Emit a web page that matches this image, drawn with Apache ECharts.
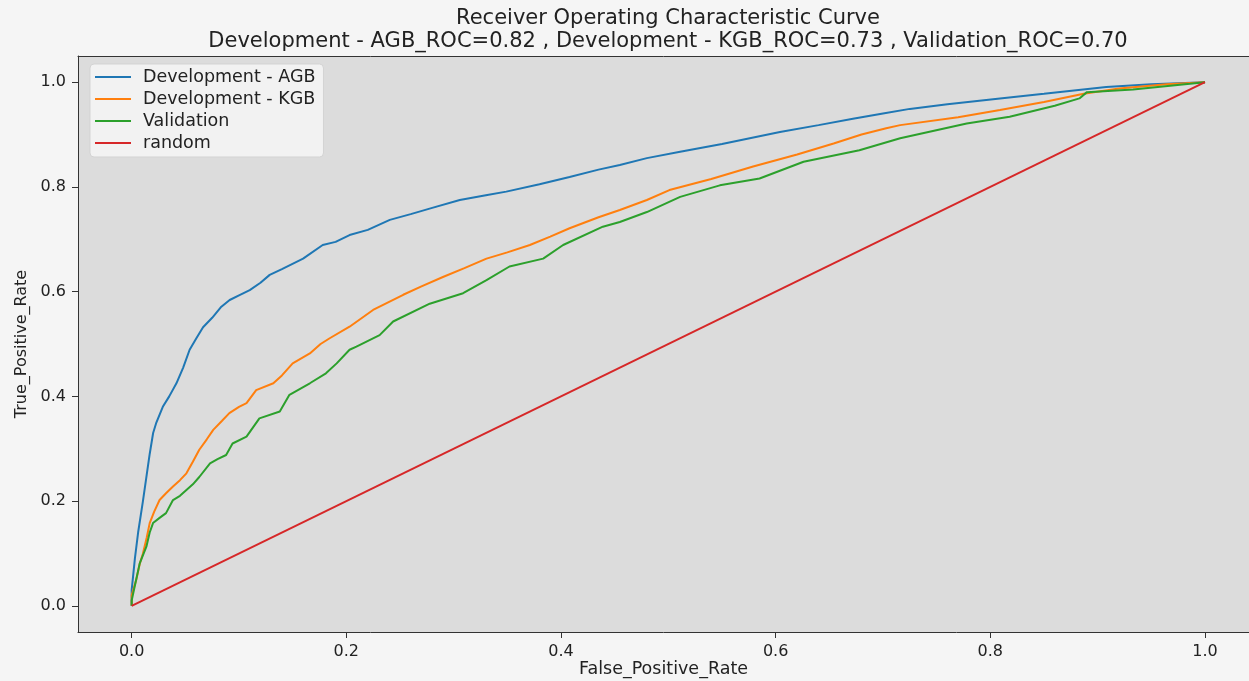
<!DOCTYPE html>
<html>
<head>
<meta charset="utf-8">
<script src="https://cdn.jsdelivr.net/npm/echarts@6/dist/echarts.min.js"></script>
<style>
html,body{margin:0;padding:0;background:#f5f5f5;}
#chart{width:1249px;height:681px;}
</style>
</head>
<body>
<div id="chart"></div>
<script>
const titleLine1 = 'Receiver Operating Characteristic Curve';
const titleLine2 = 'Development - AGB_ROC=0.82 , Development - KGB_ROC=0.73 , Validation_ROC=0.70';
const xAxisName = 'False_Positive_Rate';
const yAxisName = 'True_Positive_Rate';
const seriesNames = ['Development - AGB', 'Development - KGB', 'Validation', 'random'];
const xTicks = [0.0, 0.2, 0.4, 0.6, 0.8, 1.0];
const yTicks = [0.0, 0.2, 0.4, 0.6, 0.8, 1.0];

const agb = [[0,0],[0,0.03],[0.003,0.09],[0.006,0.14],[0.0105,0.20],[0.014,0.25],[0.0168,0.29],[0.02,0.33],[0.023,0.35],[0.029,0.38],[0.035,0.40],[0.0417,0.425],[0.048,0.455],[0.054,0.489],[0.06,0.51],[0.0665,0.532],[0.075,0.55],[0.083,0.57],[0.0913,0.584],[0.1,0.593],[0.11,0.603],[0.12,0.617],[0.1286,0.632],[0.14,0.643],[0.1597,0.663],[0.178,0.689],[0.19,0.695],[0.203,0.708],[0.22,0.718],[0.2405,0.737],[0.26,0.748],[0.28,0.76],[0.3057,0.775],[0.33,0.784],[0.349,0.791],[0.38,0.805],[0.408,0.819],[0.435,0.833],[0.4548,0.842],[0.48,0.855],[0.511,0.867],[0.55,0.882],[0.604,0.905],[0.64,0.918],[0.672,0.930],[0.7,0.94],[0.725,0.949],[0.76,0.958],[0.809,0.969],[0.85,0.978],[0.908,0.991],[0.95,0.996],[1,1]];

const kgb = [[0,0],[0,0.02],[0.0043,0.05],[0.0075,0.08],[0.0105,0.10],[0.014,0.13],[0.0168,0.158],[0.021,0.18],[0.026,0.202],[0.032,0.215],[0.0385,0.228],[0.045,0.24],[0.051,0.253],[0.057,0.275],[0.063,0.298],[0.07,0.318],[0.076,0.336],[0.084,0.353],[0.091,0.368],[0.1,0.38],[0.107,0.387],[0.116,0.412],[0.132,0.425],[0.14,0.44],[0.150,0.463],[0.166,0.482],[0.176,0.50],[0.1845,0.511],[0.203,0.533],[0.2249,0.565],[0.253,0.594],[0.27,0.61],[0.290,0.628],[0.31,0.645],[0.3306,0.663],[0.35,0.675],[0.371,0.689],[0.39,0.705],[0.408,0.721],[0.435,0.742],[0.4548,0.756],[0.48,0.775],[0.501,0.794],[0.54,0.815],[0.579,0.839],[0.62,0.862],[0.654,0.883],[0.68,0.9],[0.703,0.912],[0.716,0.918],[0.77,0.933],[0.809,0.947],[0.85,0.962],[0.887,0.978],[0.92,0.988],[0.964,0.996],[1,1]];

const validation = [[0,0],[0,0.01],[0.0028,0.037],[0.0075,0.081],[0.0137,0.113],[0.0168,0.14],[0.0199,0.158],[0.026,0.168],[0.032,0.177],[0.0385,0.202],[0.045,0.21],[0.051,0.221],[0.057,0.232],[0.063,0.246],[0.073,0.272],[0.08,0.28],[0.088,0.288],[0.094,0.31],[0.107,0.323],[0.119,0.358],[0.138,0.371],[0.147,0.403],[0.166,0.425],[0.181,0.444],[0.191,0.463],[0.203,0.489],[0.2094,0.495],[0.231,0.517],[0.2436,0.543],[0.2777,0.577],[0.3088,0.597],[0.3306,0.622],[0.352,0.648],[0.3834,0.663],[0.402,0.689],[0.439,0.724],[0.4548,0.733],[0.48,0.752],[0.511,0.781],[0.548,0.803],[0.585,0.816],[0.626,0.848],[0.678,0.870],[0.716,0.893],[0.778,0.921],[0.818,0.934],[0.86,0.955],[0.883,0.969],[0.890,0.981],[0.933,0.986],[0.986,0.997],[1,1]];

const randomLine = [[0,0],[1,1]];

const colors = ['#1f77b4', '#ff7f0e', '#2ca02c', '#d62728'];
const dataSets = [agb, kgb, validation, randomLine];
const FONT = 'DejaVu Sans';
const AXIS_COLOR = '#333';

const chart = echarts.init(document.getElementById('chart'), null, {renderer: 'canvas'});
const fmt = v => v.toFixed(1);

chart.setOption({
  backgroundColor: '#f5f5f5',
  animation: false,
  title: {
    text: titleLine1 + '\n' + titleLine2,
    left: 668,
    textAlign: 'center',
    top: 7,
    padding: 0,
    textStyle: {fontFamily: FONT, fontSize: 21, fontWeight: 'normal', color: '#222', lineHeight: 23}
  },
  legend: {
    orient: 'vertical',
    left: 90,
    top: 64,
    icon: 'rect',
    itemWidth: 36,
    itemHeight: 2,
    itemGap: 4,
    padding: [4, 8, 5, 5],
    backgroundColor: '#f2f2f2',
    borderColor: '#d3d3d3',
    borderWidth: 1,
    borderRadius: 4,
    textStyle: {fontFamily: FONT, fontSize: 17.5, lineHeight: 18, color: '#222', padding: [0, 0, 0, 7]},
    data: seriesNames
  },
  grid: {
    left: 78, top: 56, right: 0, height: 576,
    outerBoundsMode: 'none', containLabel: false,
    show: true, backgroundColor: '#dcdcdc', borderWidth: 0
  },
  xAxis: [{
    type: 'value', min: -0.05, max: 1.041, position: 'bottom',
    name: xAxisName, nameLocation: 'middle', nameGap: 28, nameMoveOverlap: false,
    nameTextStyle: {fontFamily: FONT, fontSize: 17.5, color: '#222'},
    axisLine: {show: true, onZero: false, lineStyle: {color: AXIS_COLOR, width: 1}},
    axisTick: {show: true, length: 6, customValues: xTicks, lineStyle: {color: AXIS_COLOR}},
    axisLabel: {customValues: xTicks, formatter: fmt, fontFamily: FONT, fontSize: 16, color: '#222', margin: 12},
    splitLine: {show: false}
  }, {
    type: 'value', min: -0.05, max: 1.041, position: 'top',
    axisLine: {show: true, onZero: false, lineStyle: {color: AXIS_COLOR, width: 1}},
    axisTick: {show: false}, axisLabel: {show: false}, splitLine: {show: false}
  }],
  yAxis: {
    type: 'value', min: -0.05, max: 1.05,
    name: yAxisName, nameLocation: 'middle', nameGap: 48, nameRotate: 90, nameMoveOverlap: false,
    nameTextStyle: {fontFamily: FONT, fontSize: 16, color: '#222'},
    axisLine: {show: true, onZero: false, lineStyle: {color: AXIS_COLOR, width: 1}},
    axisTick: {show: true, length: 6, customValues: yTicks, lineStyle: {color: AXIS_COLOR}},
    axisLabel: {customValues: yTicks, formatter: fmt, fontFamily: FONT, fontSize: 16, color: '#222', margin: 12},
    splitLine: {show: false}
  },
  series: seriesNames.map((n, i) => ({
    name: n, type: 'line', data: dataSets[i], xAxisIndex: 0, showSymbol: false, symbol: 'none',
    color: colors[i], lineStyle: {color: colors[i], width: 2}, z: 2 + i
  }))
});
</script>
</body>
</html>
